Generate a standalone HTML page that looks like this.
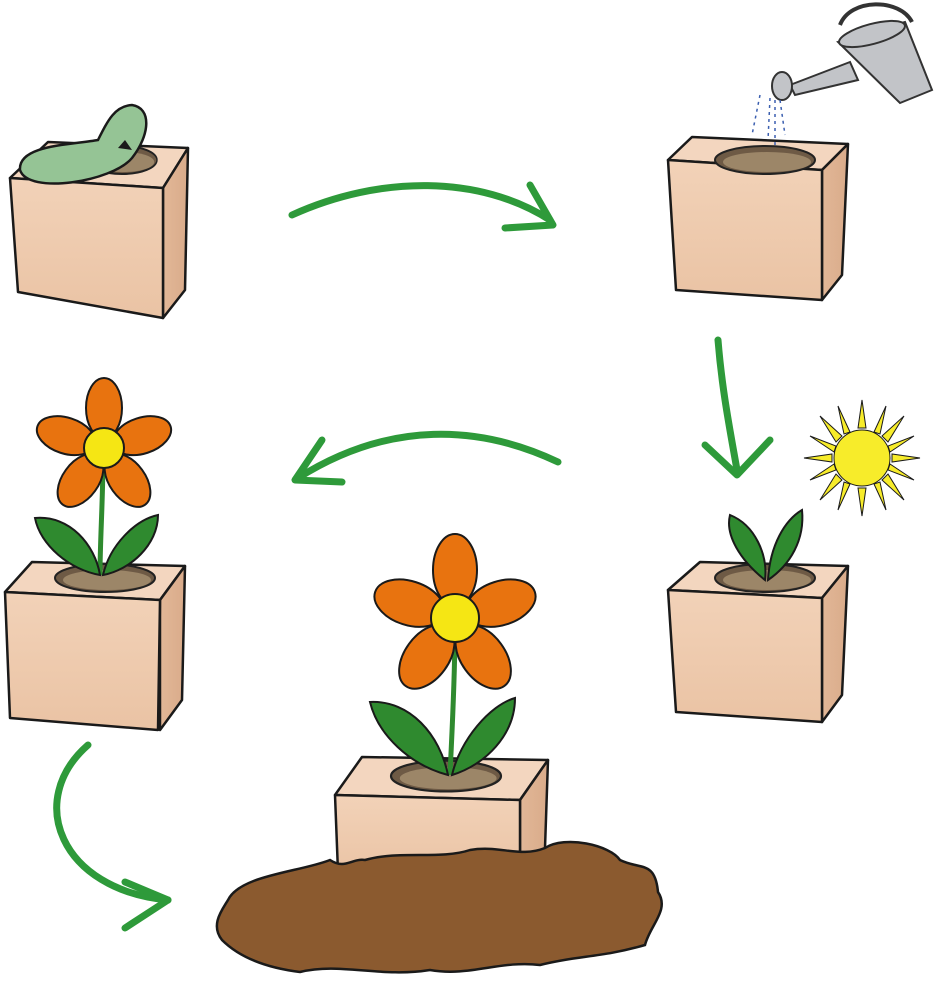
<!DOCTYPE html>
<html><head><meta charset="utf-8"><style>html,body{margin:0;padding:0;background:#fff}svg{display:block}</style></head>
<body>
<svg width="938" height="989" viewBox="0 0 938 989" xmlns="http://www.w3.org/2000/svg">
<defs>
<linearGradient id="wf" x1="0" y1="0" x2="0" y2="1"><stop offset="0" stop-color="#f2d2b8"/><stop offset="1" stop-color="#eac3a4"/></linearGradient>
<linearGradient id="ws" x1="0" y1="0" x2="1" y2="0"><stop offset="0" stop-color="#e2b797"/><stop offset="1" stop-color="#d9ab8a"/></linearGradient>
<g id="soil"><ellipse cx="0" cy="0" rx="50" ry="14" fill="#6e5a45" stroke="#222" stroke-width="2"/><ellipse cx="2" cy="2" rx="44" ry="10" fill="#9c8668"/></g>
</defs>
<g stroke="#1a1a1a" stroke-width="2.5" stroke-linejoin="round">
<polygon points="10,178 48,142 188,148 163,188" fill="#f3d6bf"/>
<polygon points="163,188 188,148 185,290 163,318" fill="url(#ws)"/>
<polygon points="10,178 163,188 163,318 18,292" fill="url(#wf)"/>
<polygon points="668,160 692,137 848,144 822,170" fill="#f3d6bf"/>
<polygon points="822,170 848,144 842,275 822,300" fill="url(#ws)"/>
<polygon points="668,160 822,170 822,300 676,290" fill="url(#wf)"/>
<polygon points="668,590 700,562 848,566 822,598" fill="#f3d6bf"/>
<polygon points="822,598 848,566 842,695 822,722" fill="url(#ws)"/>
<polygon points="668,590 822,598 822,722 676,712" fill="url(#wf)"/>
<polygon points="5,592 32,562 185,566 160,600" fill="#f3d6bf"/>
<polygon points="160,600 185,566 182,700 160,730" fill="url(#ws)"/>
<polygon points="5,592 160,600 158,730 10,718" fill="url(#wf)"/>
<polygon points="335,795 362,757 548,760 520,800" fill="#f3d6bf"/>
<polygon points="520,800 548,760 545,848 520,880" fill="url(#ws)"/>
<polygon points="335,795 520,800 520,880 338,872" fill="url(#wf)"/>
</g>
<use href="#soil" transform="translate(122,160) scale(0.7,1)"/>
<use href="#soil" transform="translate(765,160) scale(1,1)"/>
<use href="#soil" transform="translate(765,578)"/>
<use href="#soil" transform="translate(105,578)"/>
<use href="#soil" transform="translate(446,776) scale(1.1,1.1)"/>
<path d="M20,170 C18,145 70,145 98,140 C108,120 115,106 132,105 C152,108 150,135 132,158 C112,182 28,195 20,170 Z" fill="#95c495" stroke="#1a1a1a" stroke-width="2.5"/>
<path d="M118,148 L125,140 L132,150 Z" fill="#1a1a1a"/>
<path d="M228,900 C240,875 300,872 330,860 C345,870 352,858 365,860 C400,850 440,860 470,850 C500,845 520,858 545,848 C565,835 610,845 620,860 C640,870 655,860 658,892 C670,910 650,925 645,945 C600,958 580,955 540,965 C500,960 470,977 430,970 C380,978 340,962 300,972 C268,968 240,958 222,940 C210,925 222,910 228,900 Z" fill="#8b5a2f" stroke="#1a1a1a" stroke-width="2.5"/>
<g fill="none" stroke="#2e9a3a" stroke-width="7" stroke-linecap="round" stroke-linejoin="round">
<path d="M292,215 C380,175 480,175 550,220"/>
<path d="M530,185 L553,225 L505,228"/>
<path d="M558,462 C480,425 390,420 298,478"/>
<path d="M322,440 L295,480 L342,482"/>
<path d="M718,340 C722,390 730,430 737,470"/>
<path d="M705,445 L737,475 L770,440"/>
<path d="M88,745 C25,800 60,890 168,900"/>
<path d="M125,882 L168,900 L125,928"/>
</g>
<g stroke="#333" stroke-width="2" fill="#c2c4c8">
<path d="M838,42 L905,22 L932,90 L900,103 Z"/>
<ellipse cx="872" cy="34" rx="34" ry="10" transform="rotate(-15 872 34)"/>
<path d="M840,25 C850,-2 900,-2 912,22" fill="none" stroke-width="4"/>
<path d="M850,62 L790,85 L795,95 L858,80 Z"/>
<ellipse cx="782" cy="86" rx="10" ry="14"/>
</g>
<g stroke="#3b5fb0" stroke-width="1.5" stroke-dasharray="3 4"><path d="M760,95 L752,135"/><path d="M770,98 L768,140"/><path d="M780,100 L785,135"/><path d="M775,100 L775,145"/></g>
<g stroke="#1a1a1a" stroke-width="1" fill="#f7ec2a">
<circle cx="862" cy="458" r="28"/>
<polygon points="862,400 866,428 858,428"/><polygon points="862,516 866,488 858,488"/>
<polygon points="804,458 832,454 832,462"/><polygon points="920,458 892,454 892,462"/>
<polygon points="820,416 842,436 836,442"/><polygon points="904,500 882,480 888,474"/>
<polygon points="904,416 888,442 882,436"/><polygon points="820,500 836,474 842,480"/>
<polygon points="838,406 850,432 844,434"/><polygon points="886,510 874,484 880,482"/>
<polygon points="886,406 880,434 874,432"/><polygon points="838,510 844,482 850,484"/>
<polygon points="810,436 836,446 834,452"/><polygon points="914,480 888,470 890,464"/>
<polygon points="914,436 890,452 888,446"/><polygon points="810,480 834,464 836,470"/>
</g>
<g stroke="#1a1a1a" stroke-width="2" fill="#2f8a2f">
<path d="M765,580 C740,560 725,535 730,515 C755,525 768,555 765,580 Z"/>
<path d="M768,580 C770,545 785,520 802,510 C805,540 790,565 768,580 Z"/>
</g>
<g stroke="#1a1a1a" stroke-width="2">
<path d="M103,455 C103,500 100,540 100,575" fill="none" stroke="#2f8a2f" stroke-width="5"/>
<path d="M100,575 C70,570 40,545 35,518 C70,515 95,545 100,575 Z" fill="#2f8a2f"/>
<path d="M103,575 C110,545 135,520 158,515 C158,545 130,570 103,575 Z" fill="#2f8a2f"/>
<g fill="#e8730f" transform="translate(104,448)">
<ellipse cx="0" cy="-40" rx="18" ry="30"/>
<ellipse cx="0" cy="-40" rx="18" ry="30" transform="rotate(72)"/>
<ellipse cx="0" cy="-40" rx="18" ry="30" transform="rotate(144)"/>
<ellipse cx="0" cy="-40" rx="18" ry="30" transform="rotate(216)"/>
<ellipse cx="0" cy="-40" rx="18" ry="30" transform="rotate(288)"/>
<circle r="20" fill="#f5e614"/>
</g>
</g>
<g stroke="#1a1a1a" stroke-width="2">
<path d="M455,625 C455,680 452,730 450,775" fill="none" stroke="#2f8a2f" stroke-width="5"/>
<path d="M448,775 C410,765 378,735 370,702 C410,700 440,735 448,775 Z" fill="#2f8a2f"/>
<path d="M452,775 C460,740 490,705 515,698 C515,735 485,765 452,775 Z" fill="#2f8a2f"/>
<g fill="#e8730f" transform="translate(455,618)">
<ellipse cx="0" cy="-48" rx="22" ry="36"/>
<ellipse cx="0" cy="-48" rx="22" ry="36" transform="rotate(72)"/>
<ellipse cx="0" cy="-48" rx="22" ry="36" transform="rotate(144)"/>
<ellipse cx="0" cy="-48" rx="22" ry="36" transform="rotate(216)"/>
<ellipse cx="0" cy="-48" rx="22" ry="36" transform="rotate(288)"/>
<circle r="24" fill="#f5e614"/>
</g>
</g>
</svg>
</body></html>
